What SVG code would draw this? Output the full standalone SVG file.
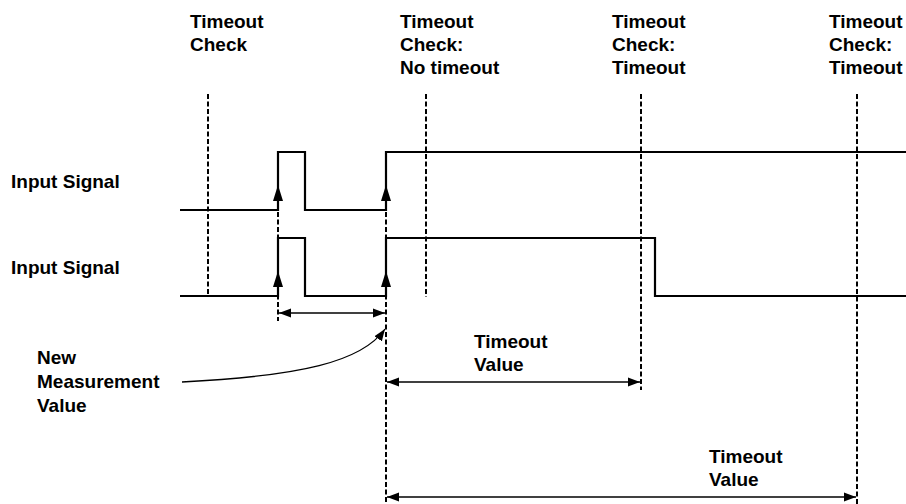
<svg xmlns="http://www.w3.org/2000/svg" width="906" height="504" viewBox="0 0 906 504">
<style>
text{font-family:"Liberation Sans",Arial,sans-serif;font-weight:bold;font-size:19px;fill:#000}
.dash{stroke:#000;stroke-width:2;stroke-dasharray:5 2.5;fill:none}
.sig{stroke:#000;stroke-width:2.2;fill:none}
.dim{stroke:#000;stroke-width:1.3;fill:none}
.head{fill:#000}
</style>
<defs>
<marker id="ah" markerUnits="userSpaceOnUse" markerWidth="13" markerHeight="10" refX="12" refY="5" orient="auto-start-reverse" viewBox="0 0 13 10">
<path d="M0,0.5 L12,5 L0,9.5 z" fill="#000"/>
</marker>
</defs>
<rect width="906" height="504" fill="#fff"/>
<g id="labels">
<g id="check1"><text x="190" y="28">Timeout</text><text x="190" y="51">Check</text></g>
<g id="check2"><text x="400" y="28">Timeout</text><text x="400" y="51">Check:</text><text x="400" y="74">No timeout</text></g>
<g id="check3"><text x="612" y="28">Timeout</text><text x="612" y="51">Check:</text><text x="612" y="74">Timeout</text></g>
<g id="check4"><text x="829" y="28">Timeout</text><text x="829" y="51">Check:</text><text x="829" y="74">Timeout</text></g>
<g id="sig1label"><text x="11" y="188">Input Signal</text></g>
<g id="sig2label"><text x="11" y="274">Input Signal</text></g>
<g id="newmeas"><text x="37" y="364">New</text><text x="37" y="388">Measurement</text><text x="37" y="412">Value</text></g>
<g id="tv1"><text x="474" y="348">Timeout</text><text x="474" y="371">Value</text></g>
<g id="tv2"><text x="709" y="463">Timeout</text><text x="709" y="486">Value</text></g>
</g>
<g id="connectors">
<line class="dash" x1="208" y1="94" x2="208" y2="297"/>
<line class="dash" x1="278" y1="152" x2="278" y2="321"/>
<line class="dash" x1="386" y1="152" x2="386" y2="504"/>
<line class="dash" x1="426" y1="94" x2="426" y2="297"/>
<line class="dash" x1="641" y1="94" x2="641" y2="390"/>
<line class="dash" x1="857" y1="94" x2="857" y2="504"/>
<polyline class="sig" points="180,210 278,210 278,152 305,152 305,210 386,210 386,152 906,152"/>
<polyline class="sig" points="180,296 278,296 278,238 305,238 305,296 386,296 386,238 655,238 655,296 906,296"/>
<polygon class="head" points="278,185 283,201 273,201"/>
<polygon class="head" points="386,185 391,201 381,201"/>
<polygon class="head" points="278,271 283,287 273,287"/>
<polygon class="head" points="386,271 391,287 381,287"/>
<line class="dim" x1="279" y1="313" x2="385" y2="313" marker-start="url(#ah)" marker-end="url(#ah)"/>
<line class="dim" x1="387" y1="382" x2="640" y2="382" marker-start="url(#ah)" marker-end="url(#ah)"/>
<line class="dim" x1="387" y1="497" x2="856" y2="497" marker-start="url(#ah)" marker-end="url(#ah)"/>
<path class="dim" d="M182,382 C300,376 362,362 385,329" marker-end="url(#ah)"/>
</g>
</svg>
